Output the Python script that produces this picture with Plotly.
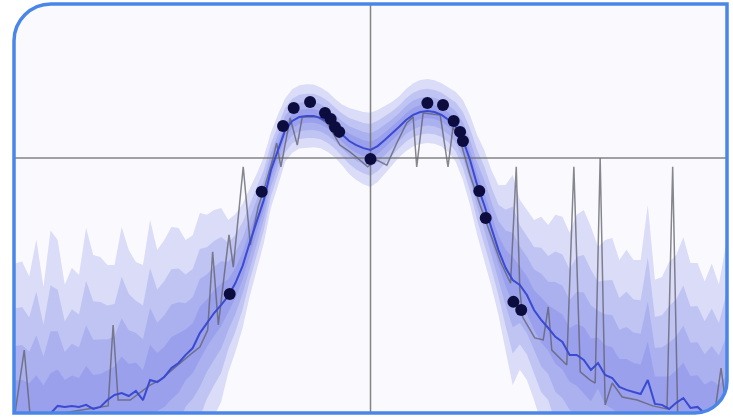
import plotly.graph_objects as go

# ---------------- data ----------------
grid_x = [round(-5 + 0.1 * i, 1) for i in range(101)]

mean_y = [
    -0.01, -0.01, -0.01, -0.01, -0.01,
    -0.01, 0.020, 0.016, 0.020, 0.016,
    0.024, 0.008, 0.016, 0.043, 0.063,
    0.071, 0.059, 0.079, 0.043, 0.122,
    0.114, 0.134, 0.169, 0.189, 0.221,
    0.248, 0.307, 0.347, 0.386, 0.418,
    0.453, 0.504, 0.571, 0.662, 0.745,
    0.832, 0.950, 1.029, 1.107, 1.143,
    1.159, 1.163, 1.163, 1.155, 1.139,
    1.115, 1.088, 1.064, 1.048, 1.036,
    1.029,
    1.044, 1.068, 1.092, 1.119, 1.147,
    1.167, 1.178, 1.182, 1.178, 1.167,
    1.147, 1.119, 1.068, 0.989, 0.891,
    0.812, 0.721, 0.634, 0.564, 0.516,
    0.497, 0.457, 0.398, 0.359, 0.327,
    0.292, 0.272, 0.221, 0.221, 0.201,
    0.162, 0.189, 0.142, 0.130, 0.095,
    0.083, 0.075, 0.067, 0.122, 0.028,
    0.024, 0.008, 0.032, 0.051, 0.012,
    0.016, -0.01, -0.01, -0.01, -0.01,
]

spread = [
    0.591, 0.599, 0.540, 0.686, 0.500,
    0.721, 0.654, 0.481, 0.544, 0.520,
    0.698, 0.607, 0.591, 0.532, 0.512,
    0.654, 0.575, 0.508, 0.532, 0.631,
    0.520, 0.540, 0.556, 0.532, 0.453,
    0.445, 0.473, 0.426, 0.406, 0.382,
    0.300, 0.272, 0.245, 0.212, 0.190,
    0.170, 0.148, 0.140, 0.126, 0.125,
    0.125, 0.125, 0.124, 0.120, 0.118,
    0.116, 0.120, 0.130, 0.138, 0.142,
    0.146,
    0.142, 0.134, 0.126, 0.120, 0.122,
    0.125, 0.126, 0.126, 0.125, 0.125,
    0.128, 0.138, 0.158, 0.177, 0.197,
    0.217, 0.229, 0.256, 0.327, 0.414,
    0.335, 0.335, 0.355, 0.406, 0.406,
    0.481, 0.493, 0.481, 0.552, 0.591,
    0.564, 0.457, 0.532, 0.552, 0.500,
    0.552, 0.520, 0.528, 0.690, 0.489,
    0.504, 0.579, 0.583, 0.634, 0.571,
    0.567, 0.520, 0.591, 0.508, 0.666,
]

band_levels = [1.0, 0.7, 0.45, 0.22]

obs_x = [-5.00, -4.87, -4.79, -4.37, -3.80, -3.69, -3.62, -3.55, -3.38, -3.10,
         -2.96, -2.75, -2.54, -2.40, -2.29, -2.22, -2.14, -1.99, -1.93, -1.79,
         -1.69, -1.58, -1.48, -1.37, -1.32, -1.26, -1.13, -1.03, -0.96, -0.75,
         -0.61, -0.43, -0.29, -0.15, -0.04, 0.09, 0.23, 0.37, 0.51, 0.60,
         0.65, 0.74, 0.98, 1.09, 1.16, 1.26, 1.40, 1.54, 1.69, 1.83,
         1.97, 2.05, 2.10, 2.14, 2.31, 2.43, 2.50, 2.55, 2.76, 2.86,
         2.95, 3.09, 3.16, 3.23, 3.30, 3.40, 3.54, 3.75, 3.97, 4.17,
         4.25, 4.32, 4.63, 4.84, 4.93, 5.00]
obs_y = [-0.01, 0.240, -0.01, -0.01, 0.016, 0.020, 0.339, 0.043, 0.043, 0.102,
         0.122, 0.173, 0.221, 0.252, 0.319, 0.627, 0.339, 0.694, 0.567, 0.962,
         0.654, 0.804, 0.891, 0.997, 1.056, 0.962, 1.155, 1.048, 1.159, 1.159,
         1.135, 1.048, 1.021, 0.989, 0.962, 0.989, 0.969, 1.056, 1.135, 1.159,
         0.962, 1.174, 1.167, 0.962, 1.119, 1.068, 0.930, 0.812, 0.694, 0.587,
         0.504, 0.962, 0.477, 0.370, 0.288, 0.280, 0.410, 0.240, 0.181, 0.962,
         0.154, 0.122, 0.110, 0.997, 0.024, 0.110, 0.055, 0.043, 0.020, 0.008,
         0.962, -0.01, -0.01, -0.01, 0.169, 0.024]

pts_x = [-1.98, -1.53, -1.23, -1.08, -0.85, -0.64, -0.56, -0.50, -0.44, 0.00,
         0.80, 1.02, 1.17, 1.26, 1.30, 1.53, 1.62, 2.01, 2.12]
pts_y = [0.461, 0.864, 1.123, 1.194, 1.218, 1.174, 1.151, 1.119, 1.100, 0.993,
         1.214, 1.206, 1.143, 1.100, 1.064, 0.867, 0.761, 0.430, 0.398]

ref_x = 0.0
ref_y = 0.997
x_range = [-5.014, 5.014]
y_range = [-0.008, 1.604]

# ---------------- figure ----------------
fig = go.Figure()

band_color = "rgba(88,100,226,0.20)"
for lvl in band_levels:
    upper = [m + lvl * s for m, s in zip(mean_y, spread)]
    lower = [m - lvl * s for m, s in zip(mean_y, spread)]
    fig.add_trace(go.Scatter(
        x=grid_x + grid_x[::-1], y=upper + lower[::-1],
        fill="toself", fillcolor=band_color, mode="lines",
        line=dict(width=0), hoverinfo="skip", showlegend=False))

# crosshair reference lines
fig.add_trace(go.Scatter(x=[ref_x, ref_x], y=y_range, mode="lines",
                         line=dict(color="rgba(110,110,110,0.85)", width=1.5),
                         hoverinfo="skip", showlegend=False))
fig.add_trace(go.Scatter(x=x_range, y=[ref_y, ref_y], mode="lines",
                         line=dict(color="rgba(110,110,110,0.85)", width=1.5),
                         hoverinfo="skip", showlegend=False))

# observed (gray) line
fig.add_trace(go.Scatter(x=obs_x, y=obs_y, mode="lines",
                         line=dict(color="rgba(95,95,105,0.75)", width=1.5),
                         showlegend=False))

# mean line
fig.add_trace(go.Scatter(x=grid_x, y=mean_y, mode="lines",
                         line=dict(color="#3a4bd2", width=2),
                         showlegend=False))

# sample points
fig.add_trace(go.Scatter(x=pts_x, y=pts_y, mode="markers",
                         marker=dict(color="#0c0c3e", size=12, line=dict(width=0)),
                         showlegend=False))

# frame with rounded top-left and bottom-right corners
W, H = 733, 417
ml, mr, mt, mb = 14, 6, 4, 4
pw, ph = W - ml - mr, H - mt - mb
k = 0.5523
rx1, ry1 = 37 / pw, 37 / ph   # top-left radius
rx2, ry2 = 32 / pw, 32 / ph   # bottom-right radius

br_corner = f"L 1,{ry2} C 1,{ry2*(1-k)} {1-rx2*(1-k)},0 {1-rx2},0 "
tl_corner = f"L 0,{1-ry1} C 0,{1-ry1*(1-k)} {rx1*(1-k)},1 {rx1},1 "

mask_br = f"M 1.01,-0.01 L 1.01,{ry2} " + br_corner + "L 1.01,-0.01 Z"
mask_tl = f"M -0.01,1.01 L -0.01,{1-ry1} " + tl_corner + "L -0.01,1.01 Z"
frame = f"M {rx1},1 L 1,1 " + br_corner + "L 0,0 " + tl_corner + "Z"

shapes = [
    dict(type="path", xref="paper", yref="paper", path=mask_br,
         fillcolor="white", line=dict(width=0), layer="above"),
    dict(type="path", xref="paper", yref="paper", path=mask_tl,
         fillcolor="white", line=dict(width=0), layer="above"),
    dict(type="path", xref="paper", yref="paper", path=frame,
         fillcolor="rgba(0,0,0,0)", line=dict(color="#4a86e8", width=3.5),
         layer="above"),
]

fig.update_layout(
    width=W, height=H,
    margin=dict(l=ml, r=mr, t=mt, b=mb, pad=0),
    paper_bgcolor="white",
    plot_bgcolor="#fafafe",
    showlegend=False,
    shapes=shapes,
    xaxis=dict(range=x_range, visible=False, showgrid=False, zeroline=False, fixedrange=True),
    yaxis=dict(range=y_range, visible=False, showgrid=False, zeroline=False, fixedrange=True),
)

fig.write_html(
    "out.html",
    config={"displayModeBar": False},
    post_script="document.body.style.margin='0';document.body.style.padding='0';"
                "document.body.style.overflow='hidden';",
)
